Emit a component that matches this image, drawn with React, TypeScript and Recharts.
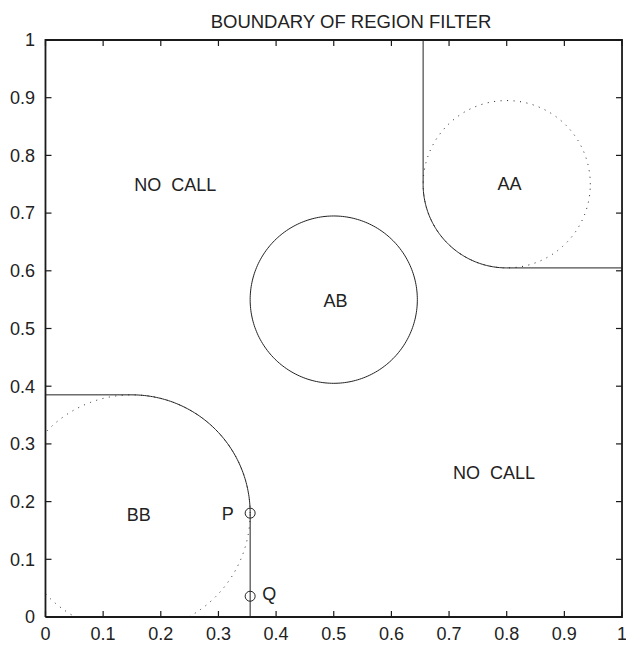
import React from 'react';
import { ComposedChart, Line, Scatter, XAxis, YAxis } from 'recharts';

const tickValues = [0, 0.1, 0.2, 0.3, 0.4, 0.5, 0.6, 0.7, 0.8, 0.9, 1];
const tickLabels = ['0', '0.1', '0.2', '0.3', '0.4', '0.5', '0.6', '0.7', '0.8', '0.9', '1'];

// Region circles: AA, AB, BB
const regionNames = ['AA', 'AB', 'BB'];
const regionCenterX = [0.8, 0.5, 0.15];
const regionCenterY = [0.75, 0.55, 0.18];
const regionRadius = [0.145, 0.145, 0.205];

// Marked points
const markerNames = ['P', 'Q'];
const markerX = [0.355, 0.355];
const markerY = [0.18, 0.036];

// Text labels
const labelTexts = ['NO\u00a0\u00a0CALL', 'NO\u00a0\u00a0CALL', 'AA', 'AB', 'BB', 'P', 'Q'];
const labelX = [0.225, 0.778, 0.805, 0.503, 0.162, 0.316, 0.388];
const labelY = [0.75, 0.251, 0.751, 0.549, 0.178, 0.179, 0.04];

const TITLE = 'BOUNDARY OF REGION FILTER';
const FONT = '"Liberation Sans", Arial, Helvetica, sans-serif';
const INK = '#222';
const FRAME = '#1a1a1a';
const TICK_LEN = 6;
const PAD = 0.005;

type Pt = { x: number | null; y: number | null };

const lo = tickValues[0];
const hi = tickValues[tickValues.length - 1];

function arc(cx: number, cy: number, r: number, a0: number, a1: number, n: number): Pt[] {
  const pts: Pt[] = [];
  for (let i = 0; i <= n; i++) {
    const a = ((a0 + ((a1 - a0) * i) / n) * Math.PI) / 180;
    const x = cx + r * Math.cos(a);
    const y = cy + r * Math.sin(a);
    if (x < lo - 1e-9 || x > hi + 1e-9 || y < lo - 1e-9 || y > hi + 1e-9) pts.push({ x: null, y: null });
    else pts.push({ x, y });
  }
  return pts;
}

const iAA = regionNames.indexOf('AA');
const iAB = regionNames.indexOf('AB');
const iBB = regionNames.indexOf('BB');

const aaDotted = arc(regionCenterX[iAA], regionCenterY[iAA], regionRadius[iAA], 0, 360, 240);
const abSolid = arc(regionCenterX[iAB], regionCenterY[iAB], regionRadius[iAB], 0, 360, 240);
const bbDotted = arc(regionCenterX[iBB], regionCenterY[iBB], regionRadius[iBB], 0, 360, 720);

const aaBoundary: Pt[] = [
  { x: regionCenterX[iAA] - regionRadius[iAA], y: hi },
  ...arc(regionCenterX[iAA], regionCenterY[iAA], regionRadius[iAA], 180, 270, 90),
  { x: hi, y: regionCenterY[iAA] - regionRadius[iAA] },
];

const bbBoundary: Pt[] = [
  { x: lo, y: regionCenterY[iBB] + regionRadius[iBB] },
  ...arc(regionCenterX[iBB], regionCenterY[iBB], regionRadius[iBB], 90, 0, 90),
  { x: regionCenterX[iBB] + regionRadius[iBB], y: lo },
];

const frame: Pt[] = [
  { x: lo, y: lo },
  { x: hi, y: lo },
  { x: hi, y: hi },
  { x: lo, y: hi },
  { x: lo, y: lo },
];

const tickMarks = [
  ...tickValues.map((v) => ({ x: v, y: lo, dir: 'up' })),
  ...tickValues.map((v) => ({ x: v, y: hi, dir: 'down' })),
  ...tickValues.map((v) => ({ x: lo, y: v, dir: 'right' })),
  ...tickValues.map((v) => ({ x: hi, y: v, dir: 'left' })),
];

const markerData = markerNames.map((n, i) => ({ name: n, x: markerX[i], y: markerY[i] }));
const labelData = labelTexts.map((t, i) => ({ text: t, x: labelX[i], y: labelY[i] }));

const lbl = (v: number) => {
  const i = tickValues.findIndex((t) => Math.abs(t - v) < 1e-9);
  return i >= 0 ? tickLabels[i] : String(v);
};

const TickMarkShape = (props: any) => {
  const { cx, cy, payload } = props;
  const d = payload.dir;
  const x2 = d === 'right' ? cx + TICK_LEN : d === 'left' ? cx - TICK_LEN : cx;
  const y2 = d === 'up' ? cy - TICK_LEN : d === 'down' ? cy + TICK_LEN : cy;
  return <path d={`M${cx},${cy}L${x2},${y2}`} stroke={FRAME} strokeWidth={1.2} fill="none" />;
};

const MarkerShape = (props: any) => {
  const { cx, cy } = props;
  return <circle cx={cx} cy={cy} r={5} fill="none" stroke={INK} strokeWidth={1} />;
};

const LabelShape = (props: any) => {
  const { cx, cy, payload } = props;
  return (
    <text x={cx} y={cy} dy="0.355em" textAnchor="middle" fontSize={18} fill={INK} fontFamily={FONT}>
      {payload.text}
    </text>
  );
};

const tickStyle = { fontSize: 18, fill: INK, fontFamily: FONT };

export default function App() {
  return (
    <div style={{ position: 'absolute', left: 0, top: 0, width: 626, height: 645, background: '#fff' }}>
      <ComposedChart width={626} height={645} margin={{ top: 37.1, right: 1.1, bottom: 0, left: 0 }}>
        <XAxis
          type="number"
          dataKey="x"
          domain={[lo - PAD, hi + PAD]}
          ticks={tickValues}
          tickFormatter={lbl}
          height={25.1}
          tickMargin={1}
          tickLine={false}
          axisLine={false}
          tick={tickStyle}
          interval={0}
        />
        <YAxis
          type="number"
          dataKey="y"
          domain={[lo - PAD, hi + PAD]}
          ticks={tickValues}
          tickFormatter={lbl}
          width={42.6}
          tickMargin={1.6}
          tickLine={false}
          axisLine={false}
          tick={tickStyle}
          interval={0}
        />
        <Line data={frame} dataKey="y" type="linear" dot={false} activeDot={false} stroke={FRAME} strokeWidth={1.8} isAnimationActive={false} />
        <Scatter data={tickMarks} dataKey="y" shape={<TickMarkShape />} isAnimationActive={false} />
        <Line data={aaDotted} dataKey="y" type="linear" dot={false} activeDot={false} stroke={INK} strokeWidth={1} strokeDasharray="1 5.5" isAnimationActive={false} />
        <Line data={bbDotted} dataKey="y" type="linear" dot={false} activeDot={false} stroke={INK} strokeWidth={1} strokeDasharray="1 5.5" isAnimationActive={false} />
        <Line data={abSolid} dataKey="y" type="linear" dot={false} activeDot={false} stroke={INK} strokeWidth={1} isAnimationActive={false} />
        <Line data={aaBoundary} dataKey="y" type="linear" dot={false} activeDot={false} stroke={INK} strokeWidth={1} isAnimationActive={false} />
        <Line data={bbBoundary} dataKey="y" type="linear" dot={false} activeDot={false} stroke={INK} strokeWidth={1} isAnimationActive={false} />
        <Scatter data={markerData} dataKey="y" shape={<MarkerShape />} isAnimationActive={false} />
        <Scatter data={labelData} dataKey="y" shape={<LabelShape />} isAnimationActive={false} />
      </ComposedChart>
      <svg width={626} height={37} style={{ position: 'absolute', left: 0, top: 0 }}>
        <text x={351} y={28} textAnchor="middle" fontSize={18.5} fill={INK} fontFamily={FONT}>
          {TITLE}
        </text>
      </svg>
    </div>
  );
}
